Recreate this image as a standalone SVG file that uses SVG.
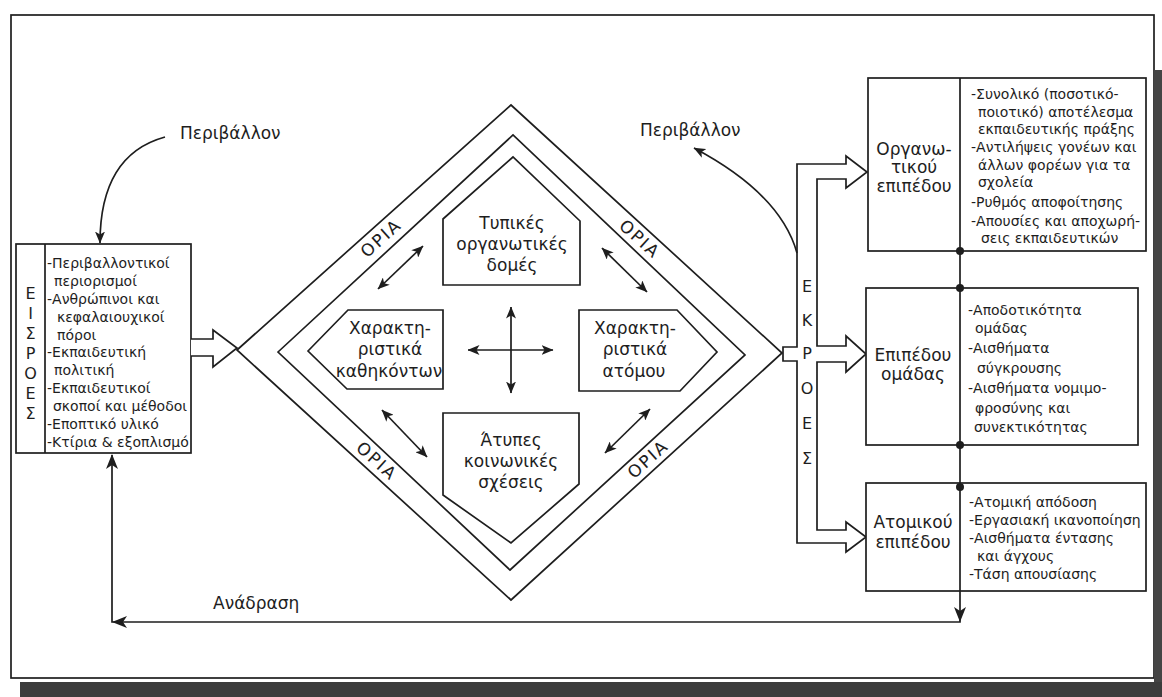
<svg xmlns="http://www.w3.org/2000/svg" width="1162" height="697" viewBox="0 0 1162 697">
<style>
.ln{fill:none;stroke:#1e1e1e;stroke-width:1.7}
.sh{fill:#fff;stroke:#1e1e1e;stroke-width:1.7}
.t{font-family:"DejaVu Sans",sans-serif;font-size:14px;fill:#1e1e1e}
.b{font-size:17px}
.v{font-size:16px}
.c{text-anchor:middle}
.o{font-size:17px;letter-spacing:2px;text-anchor:middle;dominant-baseline:central}
</style>
<defs>
<marker id="ah" viewBox="0 0 12 10" refX="11.5" refY="5" markerWidth="12" markerHeight="10" markerUnits="userSpaceOnUse" orient="auto-start-reverse">
<path d="M0,0 L12,5 L0,10 L3,5 Z" fill="#1e1e1e"/>
</marker>
</defs>
<rect x="0" y="0" width="1162" height="697" fill="#fff"/>
<g id="frame">
<rect x="11" y="15" width="1143" height="663" class="ln"/>
<rect x="1154" y="70" width="8" height="627" fill="#454545"/>
<rect x="20" y="682" width="1142" height="15" fill="#3c3c3c"/>
</g>

<g id="boundary">
<polygon class="sh" points="237,350 511,105 782,353 511,600"/>
<polygon class="sh" points="278,352 513,135 745,355 510,570"/>
<text class="t o" transform="translate(381,238) rotate(-42)">ΟΡΙΑ</text>
<text class="t o" transform="translate(640,239) rotate(42)">ΟΡΙΑ</text>
<text class="t o" transform="translate(377,461) rotate(42)">ΟΡΙΑ</text>
<text class="t o" transform="translate(648,459) rotate(-42)">ΟΡΙΑ</text>
</g>

<g id="inputs">
<rect class="sh" x="16" y="244" width="175" height="209"/>
<line class="ln" x1="45" y1="244" x2="45" y2="453"/>
<g class="t v c">
<text x="30.5" y="299">Ε</text>
<text x="30.5" y="319">Ι</text>
<text x="30.5" y="339">Σ</text>
<text x="30.5" y="359">Ρ</text>
<text x="30.5" y="379">Ο</text>
<text x="30.5" y="399">Ε</text>
<text x="30.5" y="419">Σ</text>
</g>
<g class="t">
<text x="47" y="268">-Περιβαλλοντικοί</text>
<text x="54" y="286">περιορισμοί</text>
<text x="47" y="304">-Ανθρώπινοι και</text>
<text x="57" y="322">κεφαλαιουχικοί</text>
<text x="57" y="340">πόροι</text>
<text x="47" y="357">-Εκπαιδευτική</text>
<text x="54" y="375">πολιτική</text>
<text x="47" y="393">-Εκπαιδευτικοί</text>
<text x="53" y="411">σκοποί και μέθοδοι</text>
<text x="47" y="429">-Εποπτικό υλικό</text>
<text x="47" y="447">-Κτίρια &amp; εξοπλισμό</text>
</g>
</g>

<g id="formal">
<polygon class="sh" points="443,285 443,219 513,157 580,221 580,285"/>
<g class="t b c">
<text x="512" y="229">Τυπικές</text>
<text x="512" y="250">οργανωτικές</text>
<text x="512" y="271">δομές</text>
</g>
</g>

<g id="tasks">
<polygon class="sh" points="308,351 348,310 443,310 443,389 347,389"/>
<g class="t b c">
<text x="390" y="334">Χαρακτη-</text>
<text x="390" y="355">ριστικά</text>
<text x="389" y="377">καθηκόντων</text>
</g>
</g>

<g id="individual">
<polygon class="sh" points="579,310 677,310 717,352 680,391 579,391"/>
<g class="t b c">
<text x="635" y="334">Χαρακτη-</text>
<text x="635" y="355">ριστικά</text>
<text x="634" y="377">ατόμου</text>
</g>
</g>

<g id="informal">
<polygon class="sh" points="443,413 579,413 579,484 511,543 443,495"/>
<g class="t b c">
<text x="511" y="446">Άτυπες</text>
<text x="511" y="467">κοινωνικές</text>
<text x="511" y="488">σχέσεις</text>
</g>
</g>

<g id="outputs-pipe">
<path class="sh" d="M783,347 H797 V164 H846 V156 L867,172 L846,188 V179 H817 V346 H846 V336 L866,354 L846,372 V362 H817 V530 H846 V522 L866,537 L846,552 V543 H797 V361 H783 Z"/>
<g class="t v c">
<text x="807" y="292">Ε</text>
<text x="807" y="326">Κ</text>
<text x="807" y="359">Ρ</text>
<text x="807" y="394">Ο</text>
<text x="807" y="429">Ε</text>
<text x="807" y="464">Σ</text>
</g>
</g>

<g id="org-level">
<rect class="sh" x="868" y="78" width="278" height="173"/>
<line class="ln" x1="960" y1="78" x2="960" y2="251"/>
<g class="t b c">
<text x="914" y="155">Οργανω-</text>
<text x="914" y="173">τικού</text>
<text x="914" y="192">επιπέδου</text>
</g>
<g class="t">
<text x="971" y="99">-Συνολικό (ποσοτικό-</text>
<text x="978" y="117">ποιοτικό) αποτέλεσμα</text>
<text x="978" y="134">εκπαιδευτικής πράξης</text>
<text x="971" y="152">-Αντιλήψεις γονέων και</text>
<text x="978" y="170">άλλων φορέων για τα</text>
<text x="978" y="187">σχολεία</text>
<text x="971" y="207">-Ρυθμός αποφοίτησης</text>
<text x="971" y="226">-Απουσίες και αποχωρή-</text>
<text x="981" y="243">σεις εκπαιδευτικών</text>
</g>
</g>

<g id="group-level">
<rect class="sh" x="866" y="288" width="272" height="157"/>
<line class="ln" x1="960" y1="288" x2="960" y2="445"/>
<g class="t b c">
<text x="913" y="361">Επιπέδου</text>
<text x="913" y="380">ομάδας</text>
</g>
<g class="t">
<text x="968" y="315">-Αποδοτικότητα</text>
<text x="975" y="333">ομάδας</text>
<text x="968" y="353">-Αισθήματα</text>
<text x="977" y="373">σύγκρουσης</text>
<text x="968" y="393">-Αισθήματα νομιμο-</text>
<text x="975" y="413">φροσύνης και</text>
<text x="974" y="432">συνεκτικότητας</text>
</g>
</g>

<g id="individual-level">
<rect class="sh" x="866" y="483" width="280" height="108"/>
<line class="ln" x1="960" y1="483" x2="960" y2="591"/>
<g class="t b c">
<text x="913" y="528">Ατομικού</text>
<text x="913" y="548">επιπέδου</text>
</g>
<g class="t">
<text x="969" y="507">-Ατομική απόδοση</text>
<text x="969" y="525">-Εργασιακή ικανοποίηση</text>
<text x="969" y="543">-Αισθήματα έντασης</text>
<text x="977" y="561">και άγχους</text>
<text x="969" y="579">-Τάση απουσίασης</text>
</g>
</g>

<g id="connectors">
<path class="sh" d="M191,339 H213 V330 L237,348 L213,367 V356 H191"/>
<path class="ln" d="M165,137 C125,148 100,180 100,243" marker-end="url(#ah)"/>
<path class="ln" d="M797,253 C785,210 745,175 694,148" marker-end="url(#ah)"/>
<line class="ln" x1="423" y1="246" x2="378" y2="289" marker-start="url(#ah)" marker-end="url(#ah)"/>
<line class="ln" x1="602" y1="248" x2="647" y2="292" marker-start="url(#ah)" marker-end="url(#ah)"/>
<line class="ln" x1="382" y1="410" x2="427" y2="457" marker-start="url(#ah)" marker-end="url(#ah)"/>
<line class="ln" x1="650" y1="409" x2="605" y2="453" marker-start="url(#ah)" marker-end="url(#ah)"/>
<line class="ln" x1="511" y1="307" x2="511" y2="393" marker-start="url(#ah)" marker-end="url(#ah)"/>
<line class="ln" x1="468" y1="350" x2="553" y2="350" marker-start="url(#ah)" marker-end="url(#ah)"/>
<line class="ln" x1="960" y1="251" x2="960" y2="288"/>
<line class="ln" x1="960" y1="445" x2="960" y2="483"/>
<path class="ln" d="M960,591 V622 H112 V455"/>
<polygon points="954,607 960,622 966,607 960,611" fill="#1e1e1e"/>
<polygon points="127,616 112,622 127,628 123,622" fill="#1e1e1e"/>
<polygon points="106,469 112,454 118,469 112,465" fill="#1e1e1e"/>
<circle cx="960" cy="251" r="4" fill="#1e1e1e"/>
<circle cx="960" cy="288" r="4" fill="#1e1e1e"/>
<circle cx="960" cy="445" r="4" fill="#1e1e1e"/>
<circle cx="960" cy="487" r="4" fill="#1e1e1e"/>
</g>

<g id="labels" class="t b">
<text x="180" y="139">Περιβάλλον</text>
<text x="640" y="136">Περιβάλλον</text>
<text x="213" y="609">Ανάδραση</text>
</g>
</svg>
